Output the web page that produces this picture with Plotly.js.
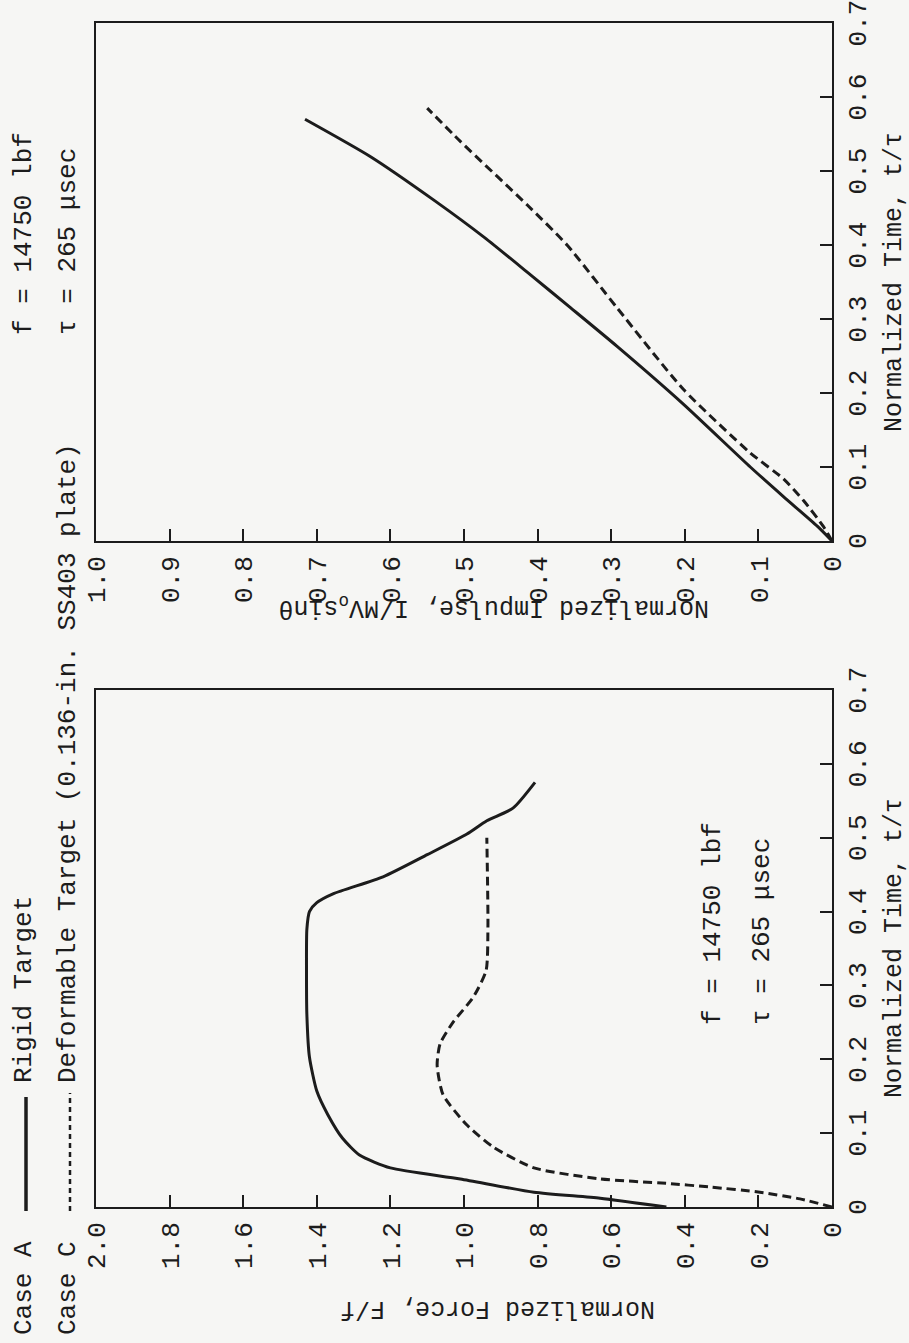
<!DOCTYPE html>
<html>
<head>
<meta charset="utf-8">
<script src="https://cdn.plot.ly/plotly-3.0.1.min.js"></script>
<style>
  html, body { margin: 0; padding: 0; background: #f6f6f4; }
  #page { position: relative; width: 909px; height: 1343px; overflow: hidden; background: #f6f6f4; }
  #chart { position: absolute; left: 0; top: 0; width: 1343px; height: 909px;
           transform-origin: 0 0; transform: translateY(1343px) rotate(-90deg); }
</style>
</head>
<body>
<div id="page"><div id="chart"></div></div>
<script>
// ---- data ----
// Normalized force vs normalized time
const forceRigidT = [0, 0.012, 0.020, 0.038, 0.053, 0.070, 0.093, 0.125, 0.157, 0.203, 0.261, 0.320, 0.376, 0.400, 0.412, 0.424, 0.447, 0.477, 0.505, 0.523, 0.540, 0.575];
const forceRigidF = [0.45, 0.63, 0.81, 1.01, 1.20, 1.283, 1.33, 1.37, 1.40, 1.42, 1.427, 1.428, 1.427, 1.42, 1.40, 1.356, 1.22, 1.10, 0.992, 0.938, 0.867, 0.807];
const forceDeformT = [0, 0.011, 0.020, 0.027, 0.032, 0.038, 0.053, 0.081, 0.111, 0.152, 0.192, 0.221, 0.250, 0.284, 0.320, 0.378, 0.500];
const forceDeformF = [0, 0.087, 0.196, 0.33, 0.45, 0.63, 0.81, 0.92, 0.992, 1.057, 1.073, 1.065, 1.03, 0.975, 0.94, 0.935, 0.938];
// Normalized impulse vs normalized time
const impRigidT = [0, 0.02, 0.06, 0.10, 0.185, 0.263, 0.315, 0.36, 0.41, 0.46, 0.52, 0.570];
const impRigidI = [0, 0.02, 0.066, 0.111, 0.202, 0.292, 0.355, 0.41, 0.472, 0.54, 0.628, 0.716];
const impDeformT = [0, 0.02, 0.055, 0.084, 0.119, 0.205, 0.315, 0.40, 0.454, 0.54, 0.585];
const impDeformI = [0, 0.012, 0.039, 0.066, 0.111, 0.202, 0.292, 0.36, 0.414, 0.505, 0.55];
// ticks
const timeTicks = [0, 0.1, 0.2, 0.3, 0.4, 0.5, 0.6, 0.7];
const timeTickText = ['0', '0.1', '0.2', '0.3', '0.4', '0.5', '0.6', '0.7'];
const forceTicks = [0, 0.2, 0.4, 0.6, 0.8, 1.0, 1.2, 1.4, 1.6, 1.8, 2.0];
const forceTickText = ['0', '0.2', '0.4', '0.6', '0.8', '1.0', '1.2', '1.4', '1.6', '1.8', '2.0'];
const impTicks = [0, 0.1, 0.2, 0.3, 0.4, 0.5, 0.6, 0.7, 0.8, 0.9, 1.0];
const impTickText = ['0', '0.1', '0.2', '0.3', '0.4', '0.5', '0.6', '0.7', '0.8', '0.9', '1.0'];
// texts
const caseALabel = 'Case A', caseAName = 'Rigid Target';
const caseCLabel = 'Case C', caseCName = 'Deformable Target (0.136-in. SS403 plate)';
const paramF = 'f = 14750 lbf', paramTau = '\u03c4 = 265 \u03bcsec';

// ---- styling / layout ----
const W = 1343, H = 909;
const FONT = 'Liberation Mono, Courier New, monospace';
const INK = '#1c1c1c';
const fs = 26, fsTitle = 25;
const px = u => u / W;            // horizontal paper coord (original orientation)
const py = v => 1 - v / H;        // vertical paper coord from top offset

function axisBase(extra) {
  return Object.assign({
    showgrid: false, zeroline: false, showline: true, mirror: true,
    linecolor: INK, linewidth: 2, ticks: 'inside', ticklen: 12, tickwidth: 2, tickcolor: INK,
    tickfont: {family: FONT, size: fs, color: INK}, ticklabelstandoff: 8,
    ticklabeloverflow: 'allow', tickmode: 'array', fixedrange: true
  }, extra);
}

const lineSolid = {color: INK, width: 3};
const lineDash = {color: INK, width: 3, dash: '9px,5px'};

const traces = [
  {x: forceRigidT, y: forceRigidF, xaxis: 'x', yaxis: 'y', mode: 'lines', line: lineSolid, name: caseALabel},
  {x: forceDeformT, y: forceDeformF, xaxis: 'x', yaxis: 'y', mode: 'lines', line: lineDash, name: caseCLabel},
  {x: impRigidT, y: impRigidI, xaxis: 'x2', yaxis: 'y2', mode: 'lines', line: lineSolid, name: caseALabel},
  {x: impDeformT, y: impDeformI, xaxis: 'x2', yaxis: 'y2', mode: 'lines', line: lineDash, name: caseCLabel}
];
traces.forEach(t => { t.line = Object.assign({shape: 'spline', smoothing: 0.6}, t.line); });

const yDom = [py(832), py(96)];
const tMid = 0.35 / 0.7;
const annFont = {family: FONT, size: fs, color: INK};
const titleFont = {family: FONT, size: fsTitle, color: INK};
const layout = {
  width: W, height: H,
  margin: {l: 0, r: 0, t: 0, b: 0},
  paper_bgcolor: '#f6f6f4', plot_bgcolor: '#f6f6f4',
  showlegend: false,
  xaxis: axisBase({domain: [px(136), px(653)], range: [0, 0.7], tickvals: timeTicks, ticktext: timeTickText, anchor: 'y', ticklabelstandoff: 1}),
  yaxis: axisBase({domain: yDom, range: [0, 2.0], tickvals: forceTicks, ticktext: forceTickText, anchor: 'x'}),
  xaxis2: axisBase({domain: [px(802), px(1320)], range: [0, 0.7], tickvals: timeTicks, ticktext: timeTickText, anchor: 'y2', ticklabelstandoff: 1}),
  yaxis2: axisBase({domain: yDom, range: [0, 1.0], tickvals: impTicks, ticktext: impTickText, anchor: 'x2'}),
  annotations: [
    // axis titles
    {text: 'Normalized Force, F/f', x: px(35), y: py(498), textangle: -90, font: titleFont},
    {text: 'Normalized Impulse, I/MV<sub>o</sub>sin\u03b8', x: px(737), y: py(494), textangle: -90, font: titleFont},
    {text: 'Normalized Time, t/\u03c4', x: px(136 + tMid * 517), y: py(894), font: titleFont},
    {text: 'Normalized Time, t/\u03c4', x: px(802 + tMid * 518), y: py(894), font: titleFont},
    // header legend
    {text: caseALabel, x: px(6), y: py(24), xanchor: 'left'},
    {text: caseAName, x: px(258), y: py(24), xanchor: 'left'},
    {text: caseCLabel, x: px(6), y: py(68), xanchor: 'left'},
    {text: caseCName, x: px(258), y: py(68), xanchor: 'left'},
    // parameters
    {text: paramF, x: px(1006), y: py(24), xanchor: 'left'},
    {text: paramTau, x: px(1006), y: py(68), xanchor: 'left'},
    {text: paramF, x: px(316), y: py(713), xanchor: 'left'},
    {text: paramTau, x: px(316), y: py(762), xanchor: 'left'}
  ].map(a => Object.assign({xref: 'paper', yref: 'paper', showarrow: false, xanchor: 'center', yanchor: 'middle', font: annFont}, a)),
  shapes: [
    {type: 'line', xref: 'paper', yref: 'paper', x0: px(132), x1: px(246), y0: py(26), y1: py(26), line: {color: INK, width: 3.5}},
    {type: 'line', xref: 'paper', yref: 'paper', x0: px(132), x1: px(250), y0: py(70), y1: py(70), line: {color: INK, width: 2.5, dash: '5px,4px'}}
  ]
};

Plotly.newPlot('chart', traces, layout, {staticPlot: true, displayModeBar: false});
</script>
</body>
</html>
